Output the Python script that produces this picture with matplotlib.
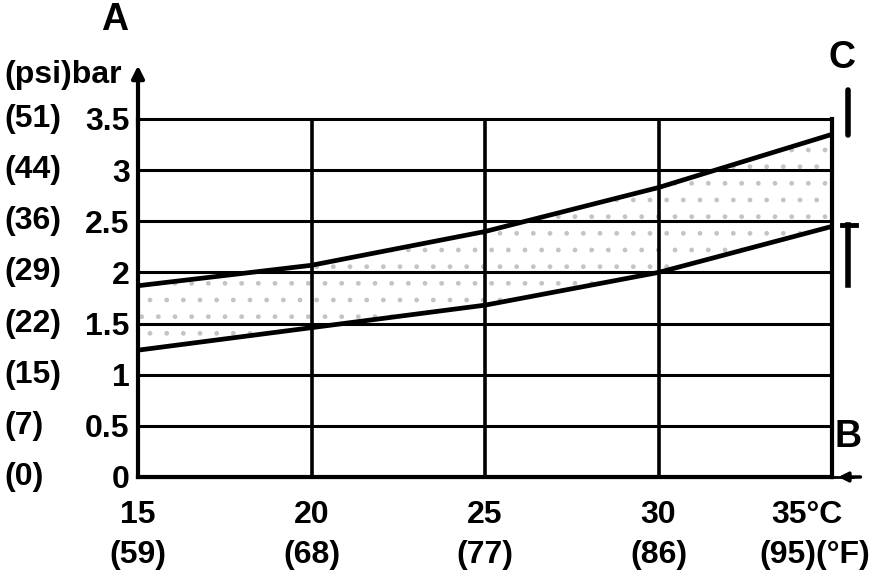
import numpy as np
import matplotlib.pyplot as plt
from matplotlib.transforms import blended_transform_factory

# temperatura (°C / °F) y presion (bar / psi)
temp_c = [15, 20, 25, 30, 35]
temp_f = [59, 68, 77, 86, 95]
bar_ticks = [0, 0.5, 1, 1.5, 2, 2.5, 3, 3.5]
bar_labels = ['0', '0.5', '1', '1.5', '2', '2.5', '3', '3.5']
psi_labels = ['(0)', '(7)', '(15)', '(22)', '(29)', '(36)', '(44)', '(51)']
upper = [1.87, 2.07, 2.40, 2.83, 3.35]   # limite superior
lower = [1.24, 1.46, 1.68, 2.00, 2.45]   # limite inferior

plt.rcParams['font.family'] = ['Liberation Sans', 'DejaVu Sans']
plt.rcParams['font.weight'] = 'bold'
fs = 23

fig = plt.figure(figsize=(8.8, 5.78), dpi=100)
ax = fig.add_axes([138/880, 101/578, 694/880, 358/578])
ax.set_xlim(15, 35)
ax.set_ylim(0, 3.5)

# rejilla
for y in bar_ticks:
    ax.axhline(y, color='k', lw=2.2, zorder=2, clip_on=False)
for x in temp_c[1:-1]:
    ax.axvline(x, color='k', lw=2.6, zorder=2)

# zona entre limites
ax.fill_between(temp_c, lower, upper, facecolor='white', hatch='.', edgecolor='#c4c4c4',
                lw=0, zorder=1)
ax.plot(temp_c, upper, color='k', lw=3.4, zorder=3)
ax.plot(temp_c, lower, color='k', lw=3.4, zorder=3)

ax.spines['top'].set_visible(False)
for s in ['left', 'right', 'bottom']:
    ax.spines[s].set_linewidth(3)

# flechas de los ejes
ax.annotate('', xy=(15, 4.05), xytext=(15, 3.4),
            arrowprops=dict(arrowstyle='-|>', color='k', lw=3, mutation_scale=18),
            annotation_clip=False)
ax.annotate('', xy=(35.1, 0), xytext=(35.9, 0),
            arrowprops=dict(arrowstyle='-|>', color='k', lw=2.5, mutation_scale=14),
            annotation_clip=False)
ax.plot([35, 35.6], [0, 0], color='k', lw=2, clip_on=False)

# marcas en C
ax.plot([35.46, 35.46], [3.34, 3.78], color='k', lw=4, solid_capstyle='round', clip_on=False)
ax.plot([35.46, 35.46], [1.88, 2.46], color='k', lw=4, clip_on=False)
ax.plot([35.3, 35.7], [2.46, 2.46], color='k', lw=3.5, clip_on=False)

ax.set_yticks(bar_ticks)
ax.set_yticklabels(bar_labels, fontsize=fs, fontweight='bold')
ax.tick_params(axis='y', length=0, pad=6)
trans = blended_transform_factory(fig.transFigure, ax.transData)
for y, p in zip(bar_ticks, psi_labels):
    ax.text(4/880, y, p, transform=trans, fontsize=fs, fontweight='bold',
            ha='left', va='center')
ax.text(4/880, 3.93, '(psi)bar', transform=trans, fontsize=fs, fontweight='bold',
        ha='left', va='center')

# etiquetas del eje x
ax.set_xticks([])
transx = blended_transform_factory(ax.transData, fig.transFigure)
for c, f in zip(temp_c[:-1], temp_f[:-1]):
    ax.text(c, 1 - 515/578, str(c), transform=transx, fontsize=fs, fontweight='bold',
            ha='center', va='center')
    ax.text(c, 1 - 555/578, '(%d)' % f, transform=transx, fontsize=fs, fontweight='bold',
            ha='center', va='center')
fig.text(843/880, 1 - 515/578, '%d°C' % temp_c[-1], fontsize=fs, fontweight='bold',
         ha='right', va='center')
fig.text(870/880, 1 - 555/578, '(%d)(°F)' % temp_f[-1], fontsize=fs, fontweight='bold',
         ha='right', va='center')

fig.text(115/880, 1 - 20/578, 'A', fontsize=27, fontweight='bold', ha='center', va='center')
fig.text(842/880, 1 - 58/578, 'C', fontsize=27, fontweight='bold', ha='center', va='center')
fig.text(848/880, 1 - 437/578, 'B', fontsize=27, fontweight='bold', ha='center', va='center')

fig.savefig('out.png', dpi=100)
